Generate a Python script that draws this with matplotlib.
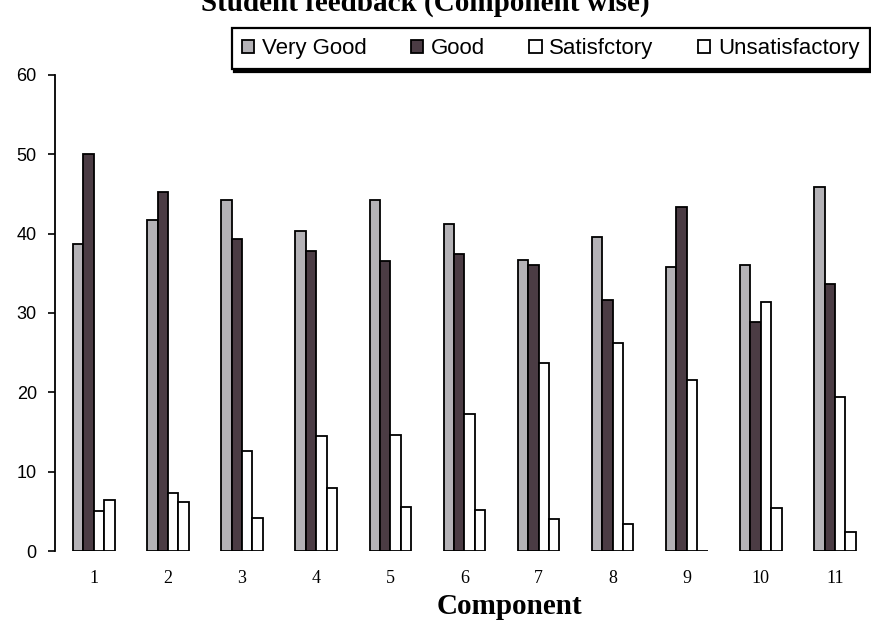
import numpy as np
import matplotlib.pyplot as plt

# Student feedback per component
components = ['1', '2', '3', '4', '5', '6', '7', '8', '9', '10', '11']
very_good = [38.7, 41.7, 44.2, 40.3, 44.3, 41.2, 36.7, 39.6, 35.8, 36.1, 45.9]
good = [50.0, 45.3, 39.3, 37.8, 36.5, 37.4, 36.1, 31.7, 43.4, 28.9, 33.6]
satisfactory = [5.0, 7.3, 12.6, 14.5, 14.6, 17.3, 23.7, 26.2, 21.6, 31.4, 19.4]
unsatisfactory = [6.4, 6.2, 4.1, 8.0, 5.6, 5.2, 4.0, 3.4, 0.0, 5.4, 2.4]

series = [
    ('Very Good', very_good, '#b4b2b6'),
    ('Good', good, '#4b3c44'),
    ('Satisfctory', satisfactory, 'white'),
    ('Unsatisfactory', unsatisfactory, 'white'),
]

fig = plt.figure(figsize=(8.71, 6.25), dpi=100)
ax = fig.add_axes([0.063, 0.1184, 0.937, 0.7616])

x = np.arange(1, len(components) + 1)
w = 0.14
for i, (name, vals, col) in enumerate(series):
    ax.bar(x + (i - 1.5) * w, vals, w, color=col, edgecolor='black',
           linewidth=1.3, label=name)

ax.set_xlim(0.474, 11.486)
ax.set_ylim(0, 60)
ax.set_yticks(range(0, 61, 10))
ax.set_xticks(x)
ax.set_xticklabels(components, family='Liberation Serif', fontsize=13)
for lbl in ax.get_yticklabels():
    lbl.set_family('Liberation Sans')
    lbl.set_fontsize(13)
ax.tick_params(axis='x', length=0, pad=14)
ax.tick_params(axis='y', direction='out', length=5, width=1.2, pad=8)

for side in ['top', 'right', 'bottom']:
    ax.spines[side].set_visible(False)
ax.spines['left'].set_linewidth(1.3)

ax.set_xlabel('Component', family='Liberation Serif', fontsize=21,
              fontweight='bold')
ax.xaxis.set_label_coords(0.557, -0.088)

# title is mostly cut off at the top of the scan
fig.text(0.488, 0.995, 'Student feedback (Component wise)', ha='center',
         va='center', family='Liberation Serif', fontsize=21,
         fontweight='bold')

leg = fig.legend(loc='upper left', bbox_to_anchor=(0.266, 0.955),
                 ncol=4, frameon=True, fancybox=False,
                 shadow={'color': 'black', 'alpha': 1}, borderaxespad=0,
                 handlelength=0.55, handleheight=0.55, handletextpad=0.35,
                 columnspacing=2.0, borderpad=0.45,
                 prop={'family': 'Liberation Sans', 'size': 16})
leg.get_frame().set_edgecolor('black')
leg.get_frame().set_linewidth(1.6)

fig.savefig('out.png', dpi=100)
